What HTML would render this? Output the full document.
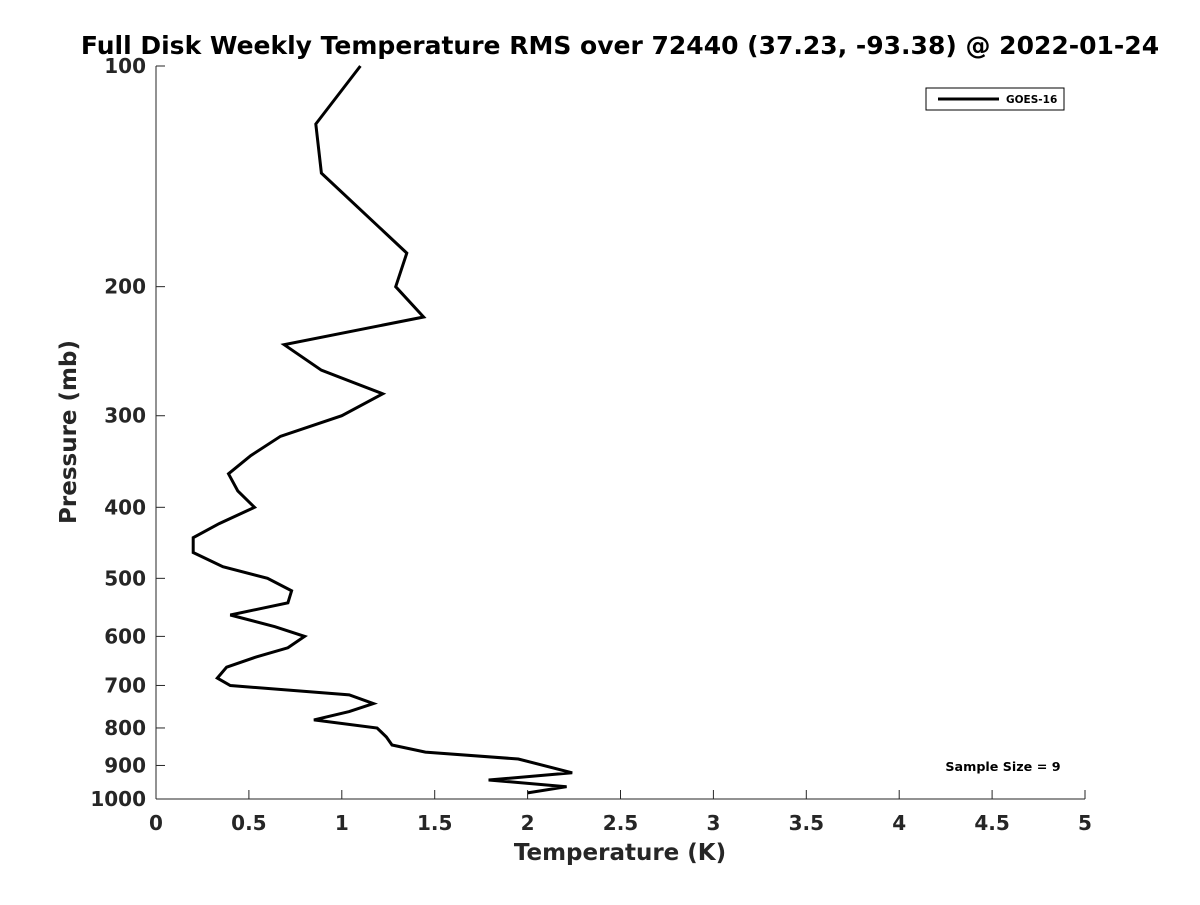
<!DOCTYPE html>
<html><head><meta charset="utf-8"><style>
body{margin:0;background:#fff}
svg text{font-family:"DejaVu Sans","Liberation Sans",sans-serif;font-weight:bold;fill:#262626}
</style></head><body>
<svg id="c" width="1200" height="900" xmlns="http://www.w3.org/2000/svg">
<rect width="1200" height="900" fill="#fff"/>
<text x="620" y="54" font-size="25" text-anchor="middle" style="fill:#000">Full Disk Weekly Temperature RMS over 72440 (37.23, -93.38) @ 2022-01-24</text>
<g id="axes"></g>
<g id="series"></g>
<text x="620" y="860" font-size="23" text-anchor="middle">Temperature (K)</text>
<text transform="translate(76,432) rotate(-90)" font-size="23" text-anchor="middle">Pressure (mb)</text>
<g>
<rect x="926" y="88" width="138" height="22" fill="#fff" stroke="#000" stroke-width="1"/>
<line x1="938" y1="99" x2="999" y2="99" stroke="#000" stroke-width="3"/>
<text x="1006" y="103" font-size="10.5" style="fill:#000">GOES-16</text>
</g>
<text x="1003" y="771" font-size="12.7" text-anchor="middle" style="fill:#000">Sample Size = 9</text>
</svg>
<script>
const pressures=[100,120,140,180,200,220,240,260,280,300,320,340,360,380,400,421,440,461,482,500,520,540,561,582,600,622,640,661,684,700,721,741,760,780,800,823,844,863,882,921,942,962,981];
const temps=[1.10,0.86,0.89,1.35,1.29,1.44,0.69,0.89,1.22,1.00,0.67,0.51,0.39,0.44,0.53,0.34,0.20,0.20,0.36,0.60,0.73,0.71,0.40,0.64,0.80,0.71,0.54,0.38,0.33,0.40,1.04,1.17,1.04,0.85,1.19,1.24,1.27,1.45,1.95,2.24,1.79,2.21,2.00];
const xTicks=[0,0.5,1,1.5,2,2.5,3,3.5,4,4.5,5];
const xTickLabels=["0","0.5","1","1.5","2","2.5","3","3.5","4","4.5","5"];
const yTicks=[100,200,300,400,500,600,700,800,900,1000];
const X0=156,X1=1085,Y0=66,Y1=799;
const xs=v=>X0+(v-0)/(5-0)*(X1-X0);
const ys=p=>Y0+(Math.log10(p)-2)/(3-2)*(Y1-Y0);
const NS="http://www.w3.org/2000/svg";
function mk(t,a,parent){const e=document.createElementNS(NS,t);for(const k in a)e.setAttribute(k,a[k]);parent.appendChild(e);return e;}
const ax=document.getElementById('axes');
let l=mk('line',{x1:X0,y1:Y0,x2:X0,y2:Y1,stroke:'#262626','stroke-width':1},ax);


l=mk('line',{x1:X0,y1:Y1,x2:X1,y2:Y1,stroke:'#262626','stroke-width':1},ax);


xTicks.forEach((v,i)=>{
 const t=mk('line',{x1:xs(v),y1:Y1,x2:xs(v),y2:Y1-9,stroke:'#262626'},ax);
 
 
 const tx=mk('text',{x:xs(v),y:Y1+31,'font-size':20,'text-anchor':'middle'},ax);
 tx.textContent=xTickLabels[i];
 
 
});
yTicks.forEach(p=>{
 const t=mk('line',{x1:X0,y1:ys(p),x2:X0+9,y2:ys(p),stroke:'#262626'},ax);
 
 
 const tx=mk('text',{x:X0-10,y:ys(p)+7,'font-size':20,'text-anchor':'end'},ax);
 tx.textContent=String(p);
 
 
});
const pts=pressures.map((p,i)=>xs(temps[i]).toFixed(1)+','+ys(p).toFixed(1)).join(' ');
const pl=mk('polyline',{points:pts,fill:'none',stroke:'#000','stroke-width':3,'stroke-linejoin':'miter'},document.getElementById('series'));


</script>
</body></html>
